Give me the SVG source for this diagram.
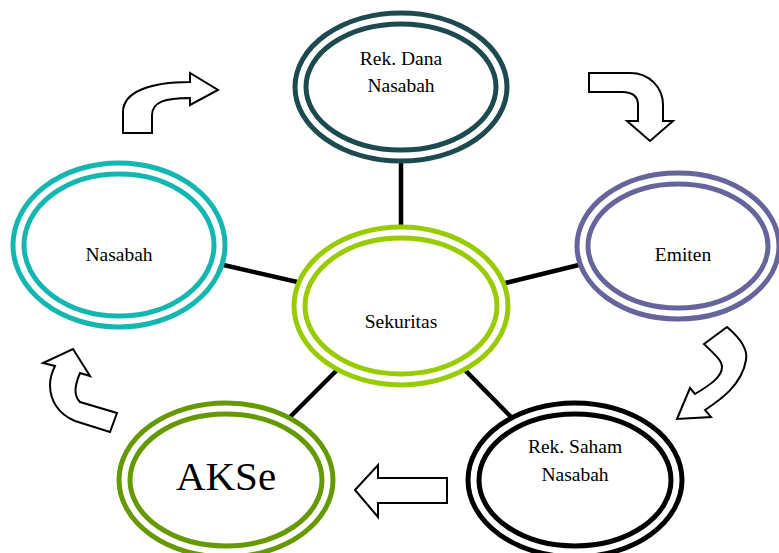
<svg xmlns="http://www.w3.org/2000/svg" width="779" height="553" viewBox="0 0 779 553">
<style>
.ring{fill:#fff;stroke-width:5}
.in{fill:none;stroke-width:5}
.lbl{font-family:"Liberation Serif","Times New Roman",serif;font-size:19.5px;fill:#000;text-anchor:middle}
.big{font-size:41px}
.arr{fill:#fff;stroke:#000;stroke-width:2;stroke-linejoin:miter}
.con line{stroke:#000;stroke-width:4.5}
</style>
<rect width="779" height="553" fill="#fff"/>
<g id="connectors" class="con">
<line x1="401" y1="160" x2="401" y2="234"/>
<line x1="215" y1="263" x2="306" y2="284"/>
<line x1="497" y1="285" x2="587" y2="263"/>
<line x1="342" y1="365" x2="285" y2="422"/>
<line x1="460" y1="365" x2="515" y2="421"/>
</g>
<g id="arrows">
<path class="arr" d="M123,133 L123,112 C123,92 150,82 190,82 L190,73 L218,90 L190,105 L190,98 C165,98 152,102 152,115 L152,133 Z"/>
<path class="arr" d="M589,73 L630,73 C650,73 663,88 663,105 L663,121 L673,121 L650,141 L627,121 L638,121 L638,105 C638,96 632,92 622,92 L589,92 Z"/>
<path class="arr" d="M727,327 C740,338 748,350 746,360 C742,385 720,400 705,410 L711,417 L677,419 L690,388 L695,394 C710,385 722,377 722,367 C722,360 712,352 704,344 Z"/>
<path class="arr" d="M73,349 L90,376 L80,373 C75,385 73,395 80,402 L117,413 L110,432 L75,421 C58,414 50,400 50,385 C50,378 52,372 55,366 L43,363 Z"/>
<path class="arr" d="M355,490 L378,465 L378,478 L447,478 L447,503 L378,503 L378,517 Z"/>
</g>
<g id="node-rekdana">
<ellipse class="ring" cx="401" cy="87" rx="106" ry="74" stroke="#1c4a4f"/>
<ellipse class="in" cx="401" cy="87" rx="95" ry="63" stroke="#1c4a4f"/>
<text class="lbl" x="401" y="65">Rek. Dana</text>
<text class="lbl" x="401" y="92">Nasabah</text>
</g>
<g id="node-nasabah">
<ellipse class="ring" cx="119" cy="245" rx="106" ry="82" stroke="#14b7b0"/>
<ellipse class="in" cx="119" cy="245" rx="95" ry="71" stroke="#14b7b0"/>
<text class="lbl" x="119" y="261">Nasabah</text>
</g>
<g id="node-emiten">
<ellipse class="ring" cx="678" cy="246" rx="101" ry="73" stroke="#65659c"/>
<ellipse class="in" cx="678" cy="246" rx="90" ry="62" stroke="#65659c"/>
<text class="lbl" x="683" y="261">Emiten</text>
</g>
<g id="node-sekuritas">
<ellipse class="ring" cx="401" cy="306" rx="107" ry="79" stroke="#99cc00"/>
<ellipse class="in" cx="401" cy="306" rx="96" ry="68" stroke="#99cc00"/>
<text class="lbl" x="401" y="328">Sekuritas</text>
</g>
<g id="node-aksee">
<ellipse class="ring" cx="226" cy="480" rx="107" ry="77" stroke="#669900"/>
<ellipse class="in" cx="226" cy="480" rx="96" ry="66" stroke="#669900"/>
<text class="lbl big" x="226" y="490">AKSe</text>
</g>
<g id="node-reksaham">
<ellipse class="ring" cx="575" cy="480" rx="107" ry="77" stroke="#000"/>
<ellipse class="in" cx="575" cy="480" rx="96" ry="66" stroke="#000"/>
<text class="lbl" x="575" y="453">Rek. Saham</text>
<text class="lbl" x="575" y="481">Nasabah</text>
</g>
</svg>
